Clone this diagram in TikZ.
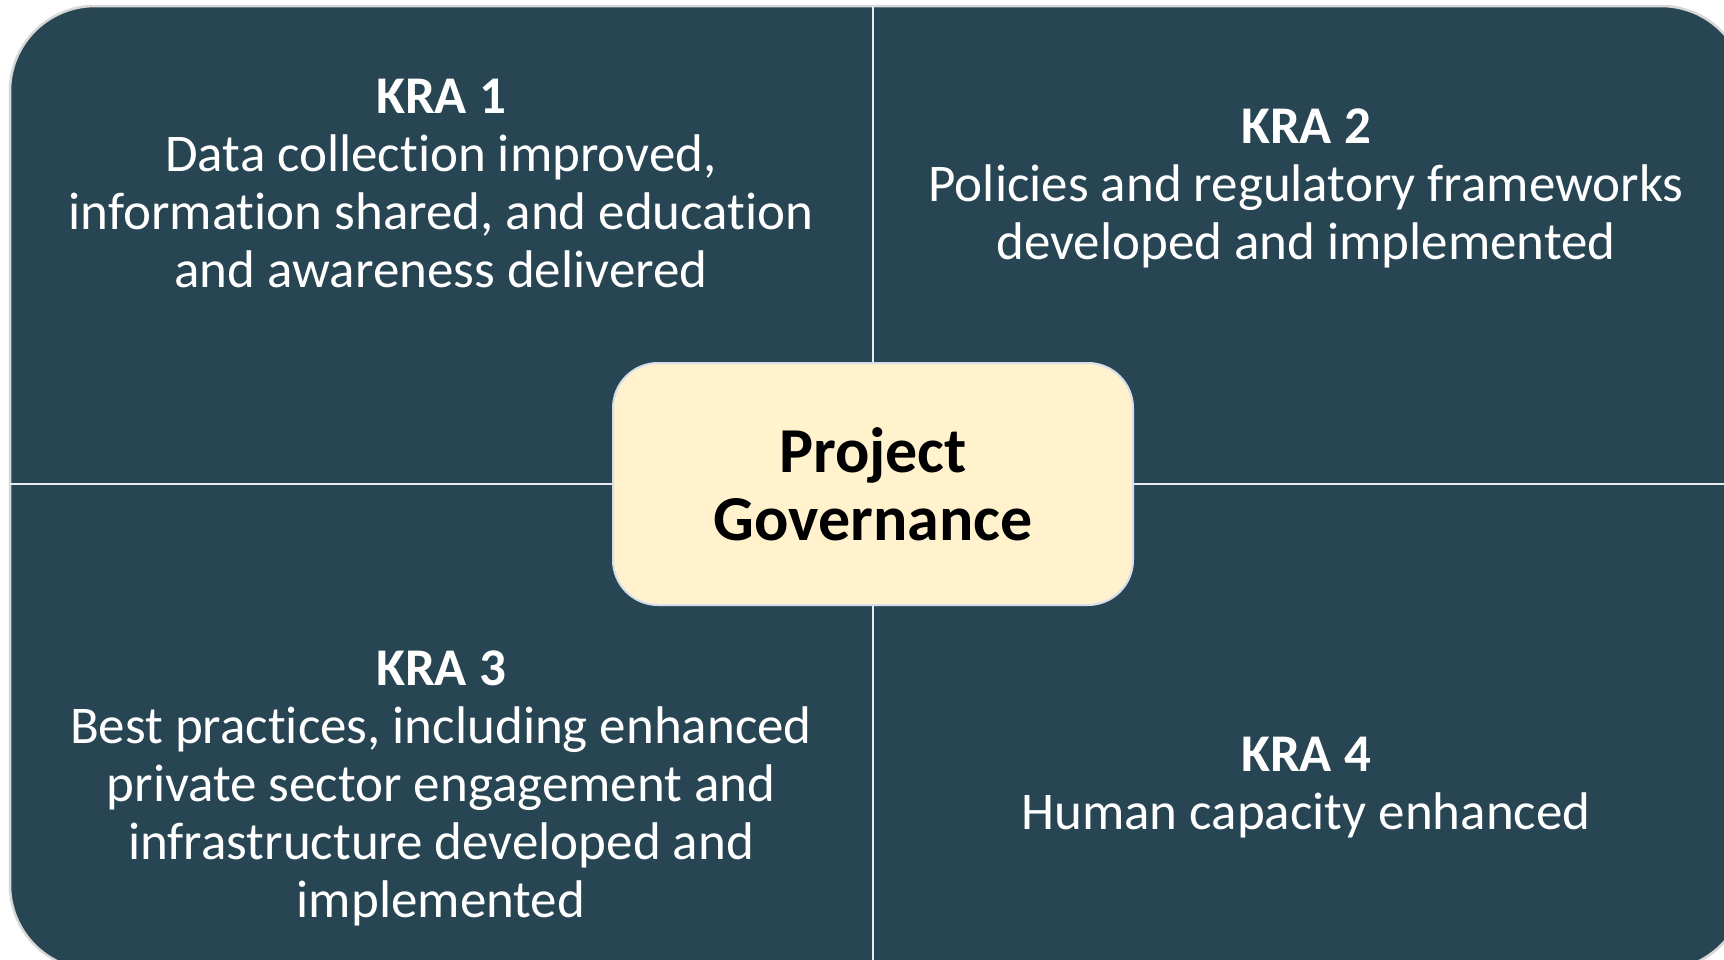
\documentclass[tikz,border=0pt]{standalone}
\usepackage{fontspec}
\setmainfont{Carlito}[Ligatures={NoCommon,NoRare}]
\definecolor{teal}{RGB}{40,69,83}
\definecolor{cream}{RGB}{255,242,204}
\definecolor{rim}{RGB}{215,215,215}
\definecolor{boxrim}{RGB}{214,222,235}
\tikzset{
  kra/.style={text=white, align=center, inner sep=0pt, font=\fontsize{53}{58}\selectfont},
  divider/.style={draw=white!90!teal, line width=2.5pt},
  hub/.style={fill=cream, draw=boxrim, line width=2pt, rounded corners=45pt,
    minimum width=520pt, minimum height=242pt, align=center, text=black,
    font=\fontsize{64}{68}\selectfont\bfseries, inner sep=0pt}
}
\begin{document}
\begin{tikzpicture}[x=1pt,y=-1pt]
\useasboundingbox (0,0) rectangle (1724,959);
\clip (0,0) rectangle (1724,959);
\fill[white] (0,0) rectangle (1724,959);
\draw[fill=teal, draw=rim, line width=2.5pt, rounded corners=85pt] (10,6) rectangle (1746,970);
\coordinate (vt) at (873,6);
\coordinate (vb) at (873,970);
\coordinate (hl) at (10,484);
\coordinate (hr) at (1746,484);
\draw[divider] (vt) -- (vb);
\draw[divider] (hl) -- (hr);
\node[hub] (pg) at (873,484) {Project\\Governance};
\node[kra] (k1) at (441,183) {\textbf{KRA 1}\\Data collection improved,\\information shared, and education\\and awareness delivered};
\node[kra] (k2) at (1306,188) {\textbf{KRA 2}\\Policies and regulatory frameworks\\developed and implemented};
\node[kra] (k3) at (441,788) {\textbf{KRA 3}\\Best practices, including enhanced\\private sector engagement and\\infrastructure developed and\\implemented};
\node[kra] (k4) at (1306,788) {\textbf{KRA 4}\\Human capacity enhanced};
\end{tikzpicture}
\end{document}
